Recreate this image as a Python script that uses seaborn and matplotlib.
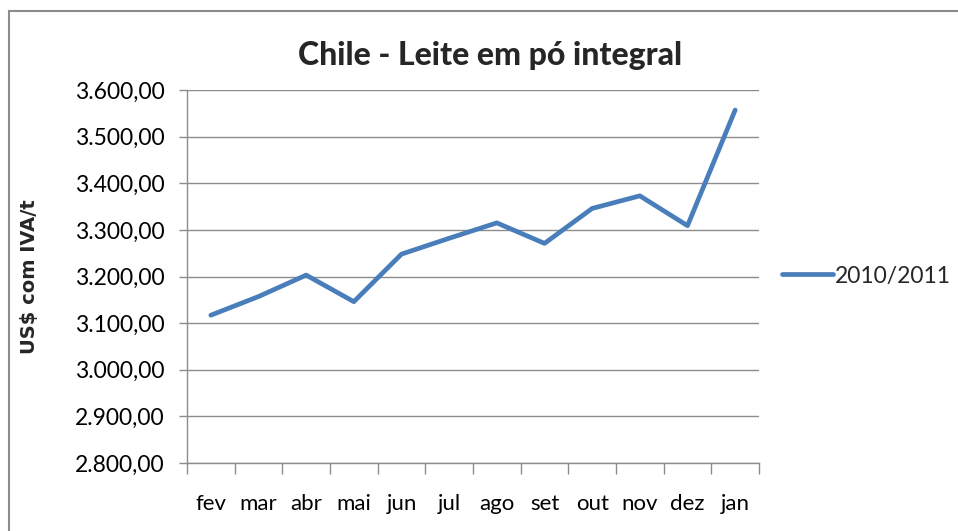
import matplotlib
matplotlib.use("Agg")
import matplotlib.pyplot as plt
import matplotlib.ticker as mticker
from matplotlib.patches import Rectangle
import seaborn as sns
import pandas as pd
import numpy as np

# -------------------- Data --------------------
months = ["fev", "mar", "abr", "mai", "jun", "jul", "ago", "set", "out", "nov", "dez", "jan"]
prices = [3117, 3157, 3203, 3146, 3248, 3282, 3315, 3271, 3346, 3373, 3309, 3557]
series_name = "2010/2011"

df = pd.DataFrame({"mes": months, "preco": prices, "serie": series_name})
df["pos"] = range(len(months))

# -------------------- Style --------------------
sns.set_theme(style="white")
plt.rcParams["font.family"] = ["Lato", "DejaVu Sans"]

grid_col = "#8c8c8c"
line_col = "#4a7ebb"

fig = plt.figure(figsize=(9.58, 5.31), dpi=100)
ax = fig.add_axes([187 / 958, 1 - 463 / 531, (759 - 187) / 958, (463 - 90) / 531])

# chart border (Excel-like)
fig.patches.append(Rectangle((9 / 958, -0.05), 1.2, 1 - 11 / 531 + 0.05,
                             transform=fig.transFigure, fill=False,
                             edgecolor="#8c8c8c", linewidth=1.5))

sns.lineplot(data=df, x="pos", y="preco", hue="serie", palette=[line_col],
             linewidth=3.4, ax=ax, solid_capstyle="round")

ax.set_ylim(2800, 3600)
ax.set_xlim(-0.5, len(months) - 0.5)
ax.yaxis.set_major_locator(mticker.MultipleLocator(100))
ax.yaxis.set_major_formatter(mticker.FuncFormatter(
    lambda v, p: f"{v:,.2f}".replace(",", "X").replace(".", ",").replace("X", ".")))
ax.grid(axis="y", color=grid_col, linewidth=1)
ax.set_axisbelow(True)

ax.set_xticks(df["pos"])
ax.set_xticklabels(months)
ax.set_xticks(np.arange(-0.5, len(months)), minor=True)
ax.tick_params(axis="both", which="both", bottom=True, left=True)
ax.tick_params(axis="x", which="major", length=0, pad=22, labelsize=16, colors="black")
ax.tick_params(axis="x", which="minor", length=8, width=1, color=grid_col, direction="out")
ax.tick_params(axis="y", which="major", length=6, width=1, color=grid_col, direction="out",
               labelsize=16.5, colors="black", pad=10)

for s in ["top", "right"]:
    ax.spines[s].set_visible(False)
for s in ["left", "bottom"]:
    ax.spines[s].set_color(grid_col)
    ax.spines[s].set_linewidth(1)

ax.set_xlabel("")
ax.set_ylabel("US$ com IVA/t", fontsize=14, fontweight="bold",
              family=["DejaVu Sans"])
ax.yaxis.set_label_coords(-0.258, 0.5)

fig.text(490 / 958, 1 - 56 / 531, "Chile - Leite em pó integral", ha="center", va="center",
         fontsize=23, fontweight="black")

leg = ax.legend(loc="center left", bbox_to_anchor=(773 / 958, 1 - 276 / 531),
                bbox_transform=fig.transFigure, frameon=False, fontsize=16.5,
                handlelength=2.2, handletextpad=0.1, borderaxespad=0)

plt.savefig("out.png", dpi=100)
plt.close()
